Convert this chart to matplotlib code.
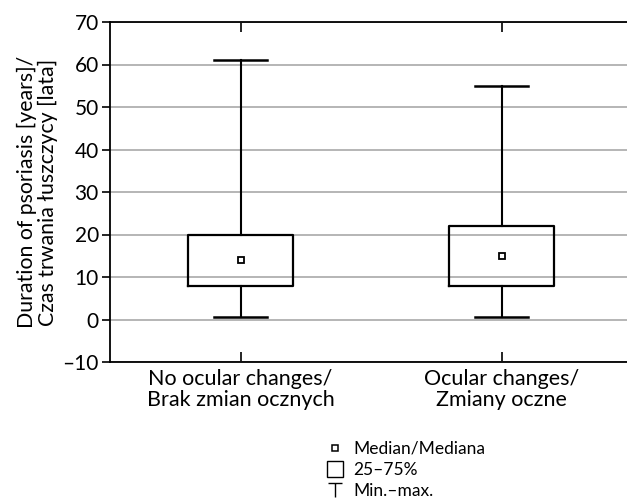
import numpy as np
import matplotlib.pyplot as plt
from matplotlib.lines import Line2D
from matplotlib.path import Path

plt.rcParams['font.family'] = ['Lato', 'DejaVu Sans']

# box statistics
groups = ['No ocular changes/\nBrak zmian ocznych', 'Ocular changes/\nZmiany oczne']
mins = [0.5, 0.5]
q1s = [8, 8]
medians = [14, 15]
q3s = [20, 22]
maxs = [61, 55]

yticks = [-10, 0, 10, 20, 30, 40, 50, 60, 70]
ytick_labels = ['\u201310', '0', '10', '20', '30', '40', '50', '60', '70']

W, H = 627, 503
fig = plt.figure(figsize=(W / 100, H / 100), dpi=100)
ax = fig.add_axes([110 / W, 1 - 362 / H, (632 - 110) / W, (362 - 22) / H])

stats = [dict(med=m, q1=a, q3=b, whislo=lo, whishi=hi, label=g)
         for g, lo, a, m, b, hi in zip(groups, mins, q1s, medians, q3s, maxs)]
pos = np.arange(1, len(groups) + 1)
ax.bxp(stats, positions=pos, widths=0.4, capwidths=0.2, showfliers=False,
       boxprops=dict(color='black', linewidth=1.6),
       whiskerprops=dict(color='black', linewidth=1.5),
       capprops=dict(color='black', linewidth=1.8),
       medianprops=dict(linestyle='none'), zorder=3)
ax.plot(pos, medians, 's', ms=5, mfc='white', mec='black', mew=1.3, ls='none', zorder=4)

ax.set_xlim(0.5, 2.5)
ax.set_ylim(-10, 70)
ax.set_yticks(yticks)
ax.set_yticklabels(ytick_labels)
ax.yaxis.grid(True, color='#b0b0b0', linewidth=1.3)
ax.set_axisbelow(True)
for s in ['left', 'top', 'bottom']:
    ax.spines[s].set_linewidth(1.3)
ax.spines['right'].set_visible(False)
ax.tick_params(axis='y', direction='out', length=6, width=1.2, labelsize=15, pad=2)
ax.tick_params(axis='x', direction='in', length=7, width=1.2, top=True,
               labelsize=15.5, pad=5)
for lbl in ax.get_xticklabels():
    lbl.set_linespacing(1.05)
ax.set_ylabel('Duration of psoriasis [years]/\nCzas trwania łuszczycy [lata]',
              fontsize=15.3, linespacing=1.05, labelpad=3)

# thin "T" symbol for the min-max legend entry
tee = Path([(-1, 1), (1, 1), (0, 1), (0, -1)],
           [Path.MOVETO, Path.LINETO, Path.MOVETO, Path.LINETO])
handles = [
    Line2D([], [], marker='s', ms=5, mfc='white', mec='black', mew=1.1, ls='none'),
    Line2D([], [], marker='s', ms=11, mfc='white', mec='black', mew=1.0, ls='none'),
    Line2D([], [], marker=tee, ms=10, mec='black', mew=1.0, ls='none'),
]
fig.legend(handles, ['Median/Mediana', '25\u201375%', 'Min.\u2013max.'],
           loc='upper left', bbox_to_anchor=(326 / W, 1 - 441 / H), frameon=False,
           fontsize=12.5, handlelength=1.0, handletextpad=0.55, labelspacing=0.3,
           borderpad=0, borderaxespad=0)

fig.savefig('out.png', dpi=100)
